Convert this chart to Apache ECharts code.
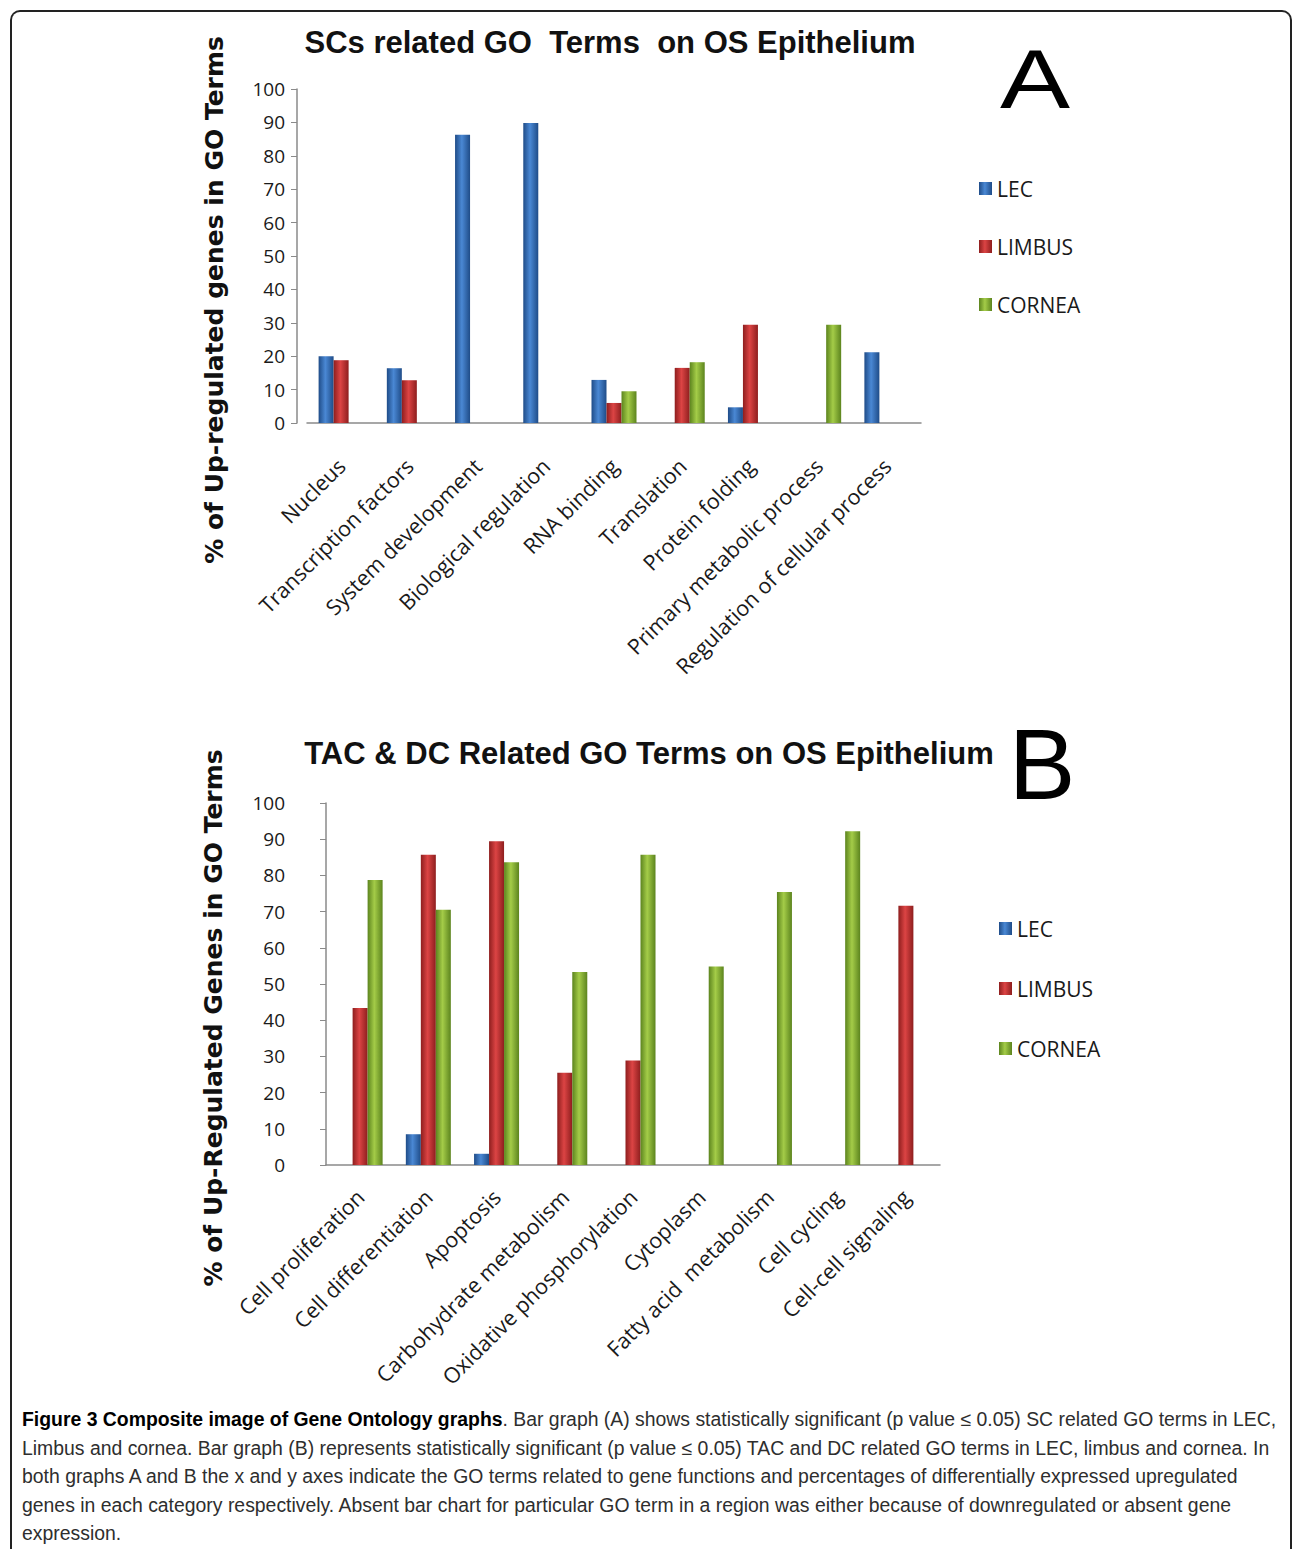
<!DOCTYPE html>
<html>
<head>
<meta charset="utf-8">
<script src="https://cdn.jsdelivr.net/npm/echarts@6.0.0/dist/echarts.min.js"></script>
<style>
  html, body { margin: 0; padding: 0; background: #fff; width: 1293px; height: 1549px; overflow: hidden; }
  #frame { position: absolute; left: 10px; top: 10px; width: 1278px; height: 1600px;
           border: 2px solid #222; border-bottom: none; border-radius: 10px 10px 0 0; }
  #chart { position: absolute; left: 0; top: 0; width: 1293px; height: 1400px; }
  #caption { position: absolute; left: 22px; top: 1405px; width: 1265px;
             font-family: 'Liberation Sans Narrow', 'Arial Narrow', 'Liberation Sans', sans-serif;
             font-size: 19.4px; line-height: 28.6px; color: #2e2e2e; white-space: nowrap; }
  #caption b { color: #000; }
</style>
</head>
<body>
<div id="frame"></div>
<div id="chart"></div>
<div id="caption"><b>Figure 3 Composite image of Gene Ontology graphs</b>. Bar graph (A) shows statistically significant (p value ≤ 0.05) SC related GO terms in LEC,<br>Limbus and cornea. Bar graph (B) represents statistically significant (p value ≤ 0.05) TAC and DC related GO terms in LEC, limbus and cornea. In<br>both graphs A and B the x and y axes indicate the GO terms related to gene functions and percentages of differentially expressed upregulated<br>genes in each category respectively. Absent bar chart for particular GO term in a region was either because of downregulated or absent gene<br>expression.</div>
<script>
// ---- Data ----
const seriesNames = ['LEC', 'LIMBUS', 'CORNEA'];
const yTicks = [0, 10, 20, 30, 40, 50, 60, 70, 80, 90, 100];

const titleA = 'SCs related GO  Terms  on OS Epithelium';
const yTitleA = '% of Up-regulated genes in GO Terms';
const categoriesA = ['Nucleus', 'Transcription factors', 'System development', 'Biological regulation',
  'RNA binding', 'Translation', 'Protein folding', 'Primary metabolic process', 'Regulation of cellular process'];
const lecA    = [20.0, 16.4, 86.3, 89.8, 12.9, null, 4.7, null, 21.2];
const limbusA = [18.8, 12.8, null, null, 6.0, 16.5, 29.4, null, null];
const corneaA = [null, null, null, null, 9.5, 18.2, null, 29.4, null];

const titleB = 'TAC & DC Related GO Terms on OS Epithelium';
const yTitleB = '% of Up-Regulated Genes in GO Terms';
const categoriesB = ['Cell proliferation', 'Cell differentiation', 'Apoptosis', 'Carbohydrate metabolism',
  'Oxidative phosphorylation', 'Cytoplasm', 'Fatty acid  metabolism', 'Cell cycling', 'Cell-cell signaling'];
const lecB    = [null, 8.5, 3.1, null, null, null, null, null, null];
const limbusB = [43.4, 85.7, 89.4, 25.5, 28.9, null, null, null, 71.6];
const corneaB = [78.7, 70.5, 83.6, 53.3, 85.7, 54.8, 75.4, 92.2, null];

// ---- Styles ----
const grad = (edge, mid) => new echarts.graphic.LinearGradient(0, 0, 1, 0, [
  { offset: 0, color: edge }, { offset: 0.45, color: mid }, { offset: 1, color: edge }
]);
const colors = {
  LEC: grad('#1f4c88', '#4a88d4'),
  LIMBUS: grad('#8e1e1e', '#dc4444'),
  CORNEA: grad('#5c841e', '#a4cc48')
};
const labelFont = "'Open Sans', 'Lato', sans-serif";

function xAxisCfg(idx, cats, margin) {
  return {
    type: 'category', gridIndex: idx, data: cats,
    axisLine: { lineStyle: { color: '#8a8a8a', width: 1.5 } },
    axisTick: { show: false },
    axisLabel: { interval: 0, rotate: 45, fontSize: 21.5, color: '#1a1a1a', fontFamily: labelFont, margin: margin }
  };
}
function yAxisCfg(idx, offset, margin) {
  return {
    type: 'value', gridIndex: idx, min: yTicks[0], max: yTicks[yTicks.length - 1], interval: yTicks[1] - yTicks[0],
    offset: offset,
    axisLine: { show: true, lineStyle: { color: '#8a8a8a', width: 1.5 } },
    axisTick: { show: true, length: 6, lineStyle: { color: '#8a8a8a' } },
    splitLine: { show: false },
    axisLabel: { fontSize: 19, color: '#1a1a1a', fontFamily: labelFont, margin: margin }
  };
}
function barSeries(name, data, idx) {
  return {
    name: name, type: 'bar', xAxisIndex: idx, yAxisIndex: idx, data: data,
    barWidth: 15, barGap: '0%',
    itemStyle: { color: colors[name] },
    emphasis: { disabled: true }
  };
}

const chart = echarts.init(document.getElementById('chart'), null, { renderer: 'svg' });
chart.setOption({
  animation: false,
  backgroundColor: 'transparent',
  grid: [
    { left: 307, top: 89, width: 614, height: 334 },
    { left: 326, top: 803, width: 614, height: 362 }
  ],
  xAxis: [xAxisCfg(0, categoriesA, 39), xAxisCfg(1, categoriesB, 28)],
  yAxis: [yAxisCfg(0, 10, 12), yAxisCfg(1, 0, 41)],
  legend: [
    { data: seriesNames, orient: 'vertical', left: 974, top: 173, itemWidth: 13, itemHeight: 13, itemGap: 37,
      icon: 'rect', textStyle: { fontSize: 21, color: '#1a1a1a', fontFamily: labelFont, lineHeight: 21 } },
    { data: seriesNames, orient: 'vertical', left: 994, top: 913, itemWidth: 13, itemHeight: 13, itemGap: 39,
      icon: 'rect', textStyle: { fontSize: 21, color: '#1a1a1a', fontFamily: labelFont, lineHeight: 21 } }
  ],
  graphic: [
    { type: 'text', x: 610, y: 42, style: { text: titleA, textAlign: 'center', textVerticalAlign: 'middle',
      font: "bold 31px 'Liberation Sans Narrow', 'Arial Narrow', sans-serif", fill: '#111' } },
    { type: 'text', x: 649, y: 753, style: { text: titleB, textAlign: 'center', textVerticalAlign: 'middle',
      font: "bold 31px 'Liberation Sans Narrow', 'Arial Narrow', sans-serif", fill: '#111' } },
    { type: 'text', x: 1035, y: 79, scaleX: 1.25, style: { text: 'A', textAlign: 'center', textVerticalAlign: 'middle',
      font: "84px 'Liberation Sans', Arial, sans-serif", fill: '#000' } },
    { type: 'text', x: 1042, y: 764, style: { text: 'B', textAlign: 'center', textVerticalAlign: 'middle',
      font: "100px 'Liberation Sans', Arial, sans-serif", fill: '#000' } },
    { type: 'text', x: 214, y: 300, rotation: Math.PI / 2, style: { text: yTitleA, textAlign: 'center', textVerticalAlign: 'middle',
      font: "bold 25px 'DejaVu Sans', Verdana, sans-serif", fill: '#111' } },
    { type: 'text', x: 213, y: 1018, rotation: Math.PI / 2, style: { text: yTitleB, textAlign: 'center', textVerticalAlign: 'middle',
      font: "bold 25px 'DejaVu Sans', Verdana, sans-serif", fill: '#111' } }
  ],
  series: [
    barSeries('LEC', lecA, 0), barSeries('LIMBUS', limbusA, 0), barSeries('CORNEA', corneaA, 0),
    barSeries('LEC', lecB, 1), barSeries('LIMBUS', limbusB, 1), barSeries('CORNEA', corneaB, 1)
  ]
});
</script>
</body>
</html>
